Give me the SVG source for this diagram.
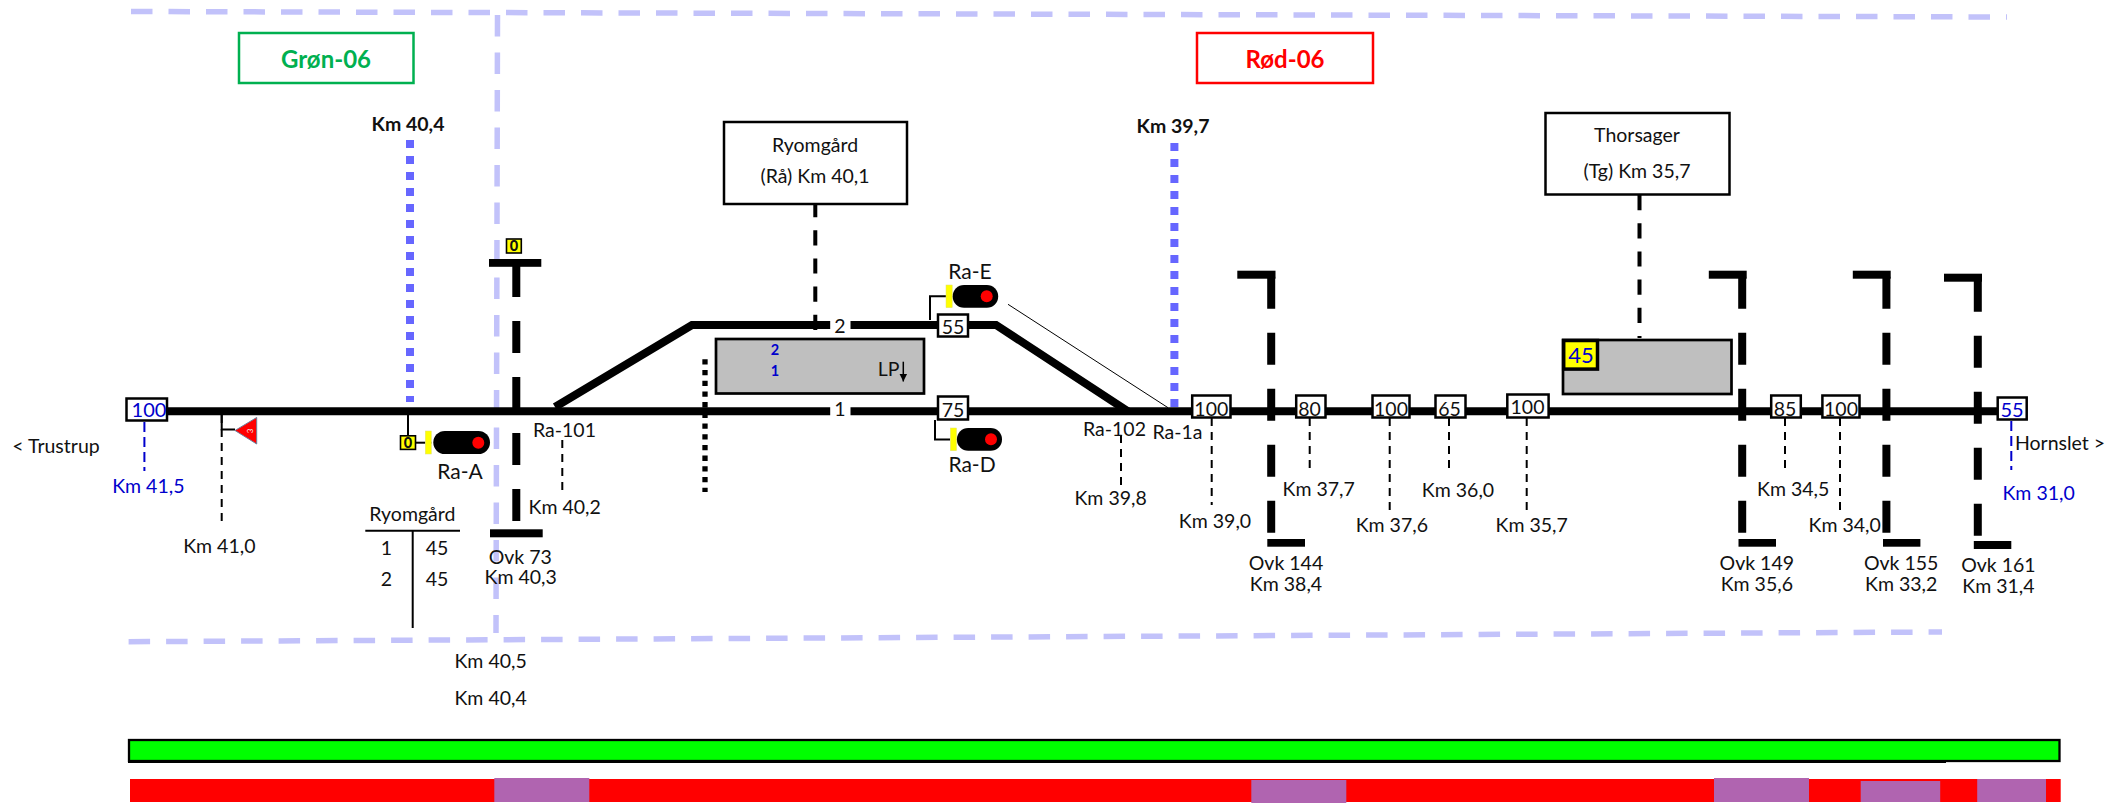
<svg xmlns="http://www.w3.org/2000/svg" width="2112" height="803" viewBox="0 0 2112 803">
<style>
text{font-family:Lato,Carlito,"Liberation Sans",sans-serif;font-size:19.5px;fill:#111;text-anchor:middle}
.b{font-weight:700}
.blue{fill:#0000cc}
.lav{fill:none;stroke:#c2c2fa;stroke-width:5.5;stroke-dasharray:21.5 16}
.dot{fill:none;stroke:#6666ff;stroke-width:8;stroke-dasharray:8 8}
.trk{fill:none;stroke:#000;stroke-width:8}
.dash{fill:none;stroke:#000;stroke-width:2;stroke-dasharray:8 6}
.bdash{fill:none;stroke:#0000cc;stroke-width:2;stroke-dasharray:10 5}
.ovk{fill:none;stroke:#000;stroke-width:8;stroke-dasharray:32 24}
.bar{fill:#000}
.sp{fill:#fff;stroke:#000;stroke-width:2.5}
.gray{fill:#bfbfbf;stroke:#000;stroke-width:2.7}
.st{fill:#fff;stroke:#000;stroke-width:2.5}
.sdash{fill:none;stroke:#000;stroke-width:4;stroke-dasharray:15.2 13}
.yb{fill:#ffff00;stroke:#e0e070;stroke-width:.5}
.hd{fill:#000}
.red{fill:#ff0000}
.ln{fill:none;stroke:#000;stroke-width:2}
.ys{fill:#ffff00;stroke:#000;stroke-width:1.6}
.sg{font-weight:900;font-size:14.5px}
.zn{font-weight:700;font-size:24px}
.tk{font-weight:700;font-size:14.5px;fill:#0000cc}
.rs{font-size:21px}
</style>
<defs>
<marker id="ah" markerWidth="6" markerHeight="6" refX="5" refY="3" orient="auto"><path d="M0,0.5L5,3L0,5.5z" fill="#000"/></marker>
</defs>

<g id="area-lines">
<path class="lav" d="M131,11.5L2007,17"/>
<path class="lav" d="M497.5,15L496,633"/>
<path class="lav" d="M128.6,641.7L1942,632"/>
</g>

<g id="connectors">
<path class="dot" d="M410,140V402"/>
<path class="dot" d="M1174.4,143V407"/>
<path class="trk" d="M168,411.3H2000"/>
<path class="trk" d="M555,407L692,325H996L1128,411.3"/>
<path d="M1008,304.3L1168,407.7" fill="none" stroke="#000" stroke-width="1"/>
<path class="sdash" d="M815.3,202V330"/>
<path class="sdash" d="M1639.5,195V338"/>
<path d="M705,359.3V492" fill="none" stroke="#000" stroke-width="5.3" stroke-dasharray="5.3 5.4"/>
<path class="bdash" d="M144.4,422V471"/>
<path class="dash" d="M221.7,415V524"/>
<path class="dash" d="M562.3,440V490"/>
<path class="dash" d="M1121,435V485"/>
<path class="dash" d="M1211.7,418V505"/>
<path class="dash" d="M1309.7,418V470"/>
<path class="dash" d="M1389.7,418V510"/>
<path class="dash" d="M1449,418V470"/>
<path class="dash" d="M1526.7,418V510"/>
<path class="dash" d="M1785,418V470"/>
<path class="dash" d="M1840,418V510"/>
<path class="bdash" d="M2011.3,421V470"/>
<path class="ln" d="M221.7,415V429.5H235"/>
<path class="ln" d="M408,415V436"/>
<path class="ln" d="M416,442.7H425"/>
<path class="ln" d="M930,320V296.3H946"/>
<path class="ln" d="M935,420V439.5H950"/>
<path class="ln" d="M412.7,530.7V628"/>
<path class="ln" d="M365.3,530.7H460"/>
</g>

<g id="zone-gron"><rect x="239" y="33" width="174.5" height="50" fill="#fff" stroke="#00b050" stroke-width="2.5"/><text class="zn" x="326" y="68.3" style="fill:#00b050">Grøn-06</text></g>
<g id="zone-rod"><rect x="1197" y="33" width="176" height="50" fill="#fff" stroke="#ff0000" stroke-width="2.5"/><text class="zn" x="1285" y="68.3" style="fill:#ff0000">Rød-06</text></g>

<g id="km-40-4"><text class="b" x="408" y="131">Km 40,4</text></g>
<g id="km-39-7"><text class="b" x="1173" y="133">Km 39,7</text></g>

<g id="station-ryomgard"><rect class="st" x="724" y="122" width="183" height="82"/><text x="815" y="151.7">Ryomgård</text><text x="815" y="182.7">(Rå) Km 40,1</text></g>
<g id="station-thorsager"><rect class="st" x="1545.5" y="113" width="184" height="81.5"/><text x="1637" y="141.7">Thorsager</text><text x="1637" y="178.3">(Tg) Km 35,7</text></g>

<g id="platform-ryomgard"><rect class="gray" x="716" y="339" width="208" height="54.5"/><text class="tk" x="775" y="355">2</text><text class="tk" x="775" y="376">1</text><text x="888.6" y="375.7">LP</text><path d="M903.3,361.7V381.5" fill="none" stroke="#000" stroke-width="1.5" marker-end="url(#ah)"/></g>
<g id="platform-thorsager"><rect class="gray" x="1563" y="340" width="168.5" height="54"/><rect x="1563.7" y="340.5" width="33.8" height="28.6" fill="#ffff00" stroke="#000" stroke-width="3.5"/><text class="blue" x="1581" y="363.3" style="font-size:22px">45</text></g>

<g id="track-label-2"><rect x="830.2" y="318" width="20.3" height="14" fill="#fff"/><text x="840" y="332.5">2</text></g>
<g id="track-label-1"><rect x="830.2" y="404" width="20.3" height="14" fill="#fff"/><text x="840" y="416">1</text></g>

<g id="sp-100a"><rect class="sp" x="126.5" y="398.5" width="40.5" height="22"/><text class="blue" x="149" y="417" style="font-size:20px">100</text></g>
<g id="sp-55a"><rect class="sp" x="938" y="314.5" width="30" height="22"/><text x="953" y="334.3">55</text></g>
<g id="sp-75"><rect class="sp" x="938" y="396.5" width="30" height="23"/><text x="953" y="416.7">75</text></g>
<g id="sp-100b"><rect class="sp" x="1192.2" y="395.5" width="38.3" height="22"/><text x="1211.3" y="415.7">100</text></g>
<g id="sp-80"><rect class="sp" x="1296.2" y="395.5" width="29.3" height="22"/><text x="1309.5" y="415.7">80</text></g>
<g id="sp-100c"><rect class="sp" x="1372.5" y="395.5" width="37" height="22"/><text x="1391" y="415.7">100</text></g>
<g id="sp-65"><rect class="sp" x="1435.5" y="395.5" width="30" height="22"/><text x="1449.5" y="415.7">65</text></g>
<g id="sp-100d"><rect class="sp" x="1507.3" y="394.5" width="41.3" height="23"/><text x="1527.5" y="414.3">100</text></g>
<g id="sp-85"><rect class="sp" x="1771.2" y="395.5" width="29.6" height="22"/><text x="1785" y="415.7">85</text></g>
<g id="sp-100e"><rect class="sp" x="1822.4" y="395.5" width="37.1" height="22"/><text x="1841" y="415.7">100</text></g>
<g id="sp-55b"><rect class="sp" x="1997.7" y="397.5" width="29" height="22"/><text class="blue" x="2012" y="417.2" style="font-size:20px">55</text></g>

<g id="sign-3"><path d="M235,430.5L256.7,417.5V444Z" fill="#ff0000" stroke="#6c7f9c" stroke-width="1"/><text x="253" y="431" transform="rotate(-90 253 431)" style="font-size:8px;fill:#eee">3</text></g>

<g id="sign-0-top"><rect class="ys" x="506.5" y="239" width="14.8" height="14"/><text class="sg" x="513.9" y="251.2">0</text></g>
<g id="sign-0-a"><rect class="ys" x="400.5" y="435.8" width="15" height="13.6"/><text class="sg" x="408" y="447.8">0</text></g>

<g id="signal-ra-a"><path d="M432,442.7H425" stroke="#999" stroke-width="2" fill="none"/><rect class="yb" x="425.3" y="431" width="6" height="23"/><rect class="hd" x="433.3" y="431" width="56.7" height="23" rx="11.5"/><circle class="red" cx="478.3" cy="442.7" r="6"/><text class="rs" x="460" y="478.7">Ra-A</text></g>
<g id="signal-ra-e"><rect class="yb" x="946" y="285" width="6.2" height="22.7"/><rect class="hd" x="952.7" y="285" width="45.5" height="22.7" rx="11.3"/><circle class="red" cx="986.7" cy="296.3" r="6"/><text class="rs" x="970" y="279">Ra-E</text></g>
<g id="signal-ra-d"><rect class="yb" x="950.4" y="428" width="6.1" height="22.7"/><rect class="hd" x="956.9" y="428" width="45.1" height="22.7" rx="11.3"/><circle class="red" cx="991" cy="439.3" r="6"/><text class="rs" x="972" y="472.3">Ra-D</text></g>

<g id="ovk-73"><rect class="bar" x="489" y="259" width="52.3" height="7.8"/><path class="ovk" d="M516.3,265V521"/><rect class="bar" x="490" y="529.3" width="52.7" height="8"/><text x="520.3" y="564">Ovk 73</text><text x="520.7" y="584">Km 40,3</text></g>
<g id="ovk-144"><rect class="bar" x="1237.3" y="270.7" width="38.2" height="8"/><path class="ovk" d="M1271.2,276.7V533"/><rect class="bar" x="1267.3" y="539" width="37.7" height="7.7"/><text x="1286" y="570">Ovk 144</text><text x="1286" y="591">Km 38,4</text></g>
<g id="ovk-149"><rect class="bar" x="1708.8" y="270.7" width="37.9" height="8"/><path class="ovk" d="M1742.2,276.7V533"/><rect class="bar" x="1738.5" y="539" width="37.5" height="7.7"/><text x="1756.8" y="570">Ovk 149</text><text x="1756.8" y="591">Km 35,6</text></g>
<g id="ovk-155"><rect class="bar" x="1852.8" y="270.7" width="37.9" height="8"/><path class="ovk" d="M1886.4,276.7V533"/><rect class="bar" x="1883" y="539" width="37.4" height="7.7"/><text x="1901.2" y="570">Ovk 155</text><text x="1901.2" y="591">Km 33,2</text></g>
<g id="ovk-161"><rect class="bar" x="1944" y="273.7" width="38" height="8"/><path class="ovk" d="M1977.8,279.7V536"/><rect class="bar" x="1973.8" y="541" width="37.5" height="8"/><text x="1998.4" y="572.3">Ovk 161</text><text x="1998.4" y="593.3">Km 31,4</text></g>

<g id="labels">
<text x="56" y="453.3">&lt; Trustrup</text>
<text class="blue" x="148.3" y="492.7">Km 41,5</text>
<text x="219.3" y="553.3">Km 41,0</text>
<text x="564.5" y="436.7">Ra-101</text>
<text x="564.7" y="514">Km 40,2</text>
<text x="1114.5" y="436">Ra-102</text>
<text x="1177.5" y="439">Ra-1a</text>
<text x="1110.6" y="505">Km 39,8</text>
<text x="1215" y="528">Km 39,0</text>
<text x="1318.7" y="496">Km 37,7</text>
<text x="1391.8" y="532.3">Km 37,6</text>
<text x="1458" y="497">Km 36,0</text>
<text x="1531.7" y="532.3">Km 35,7</text>
<text x="1793.2" y="496">Km 34,5</text>
<text x="1844.7" y="532.3">Km 34,0</text>
<text x="2060" y="450">Hornslet &gt;</text>
<text class="blue" x="2038.6" y="500">Km 31,0</text>
<text x="490.6" y="668.3">Km 40,5</text>
<text x="490.6" y="705">Km 40,4</text>
</g>

<g id="speed-table">
<text x="412.3" y="521">Ryomgård</text>
<text x="386.3" y="555">1</text><text x="437" y="555">45</text>
<text x="386.3" y="585.7">2</text><text x="437" y="585.7">45</text>
</g>

<g id="bars">
<rect x="129" y="740" width="1930.5" height="21" fill="#00ff00" stroke="#000" stroke-width="2.3"/>
<rect x="128" y="760.5" width="1818" height="2.5" fill="#000"/>
<rect x="130" y="779" width="1930.7" height="23" fill="#ff0000"/>
<g fill="#b064b0">
<rect x="494.3" y="778" width="95" height="24"/>
<rect x="1251.3" y="780" width="95" height="23"/>
<rect x="1714" y="778" width="95" height="24"/>
<rect x="1860.7" y="781" width="79.5" height="21"/>
<rect x="1977.2" y="779" width="68.8" height="23"/>
</g>
</g>
</svg>
